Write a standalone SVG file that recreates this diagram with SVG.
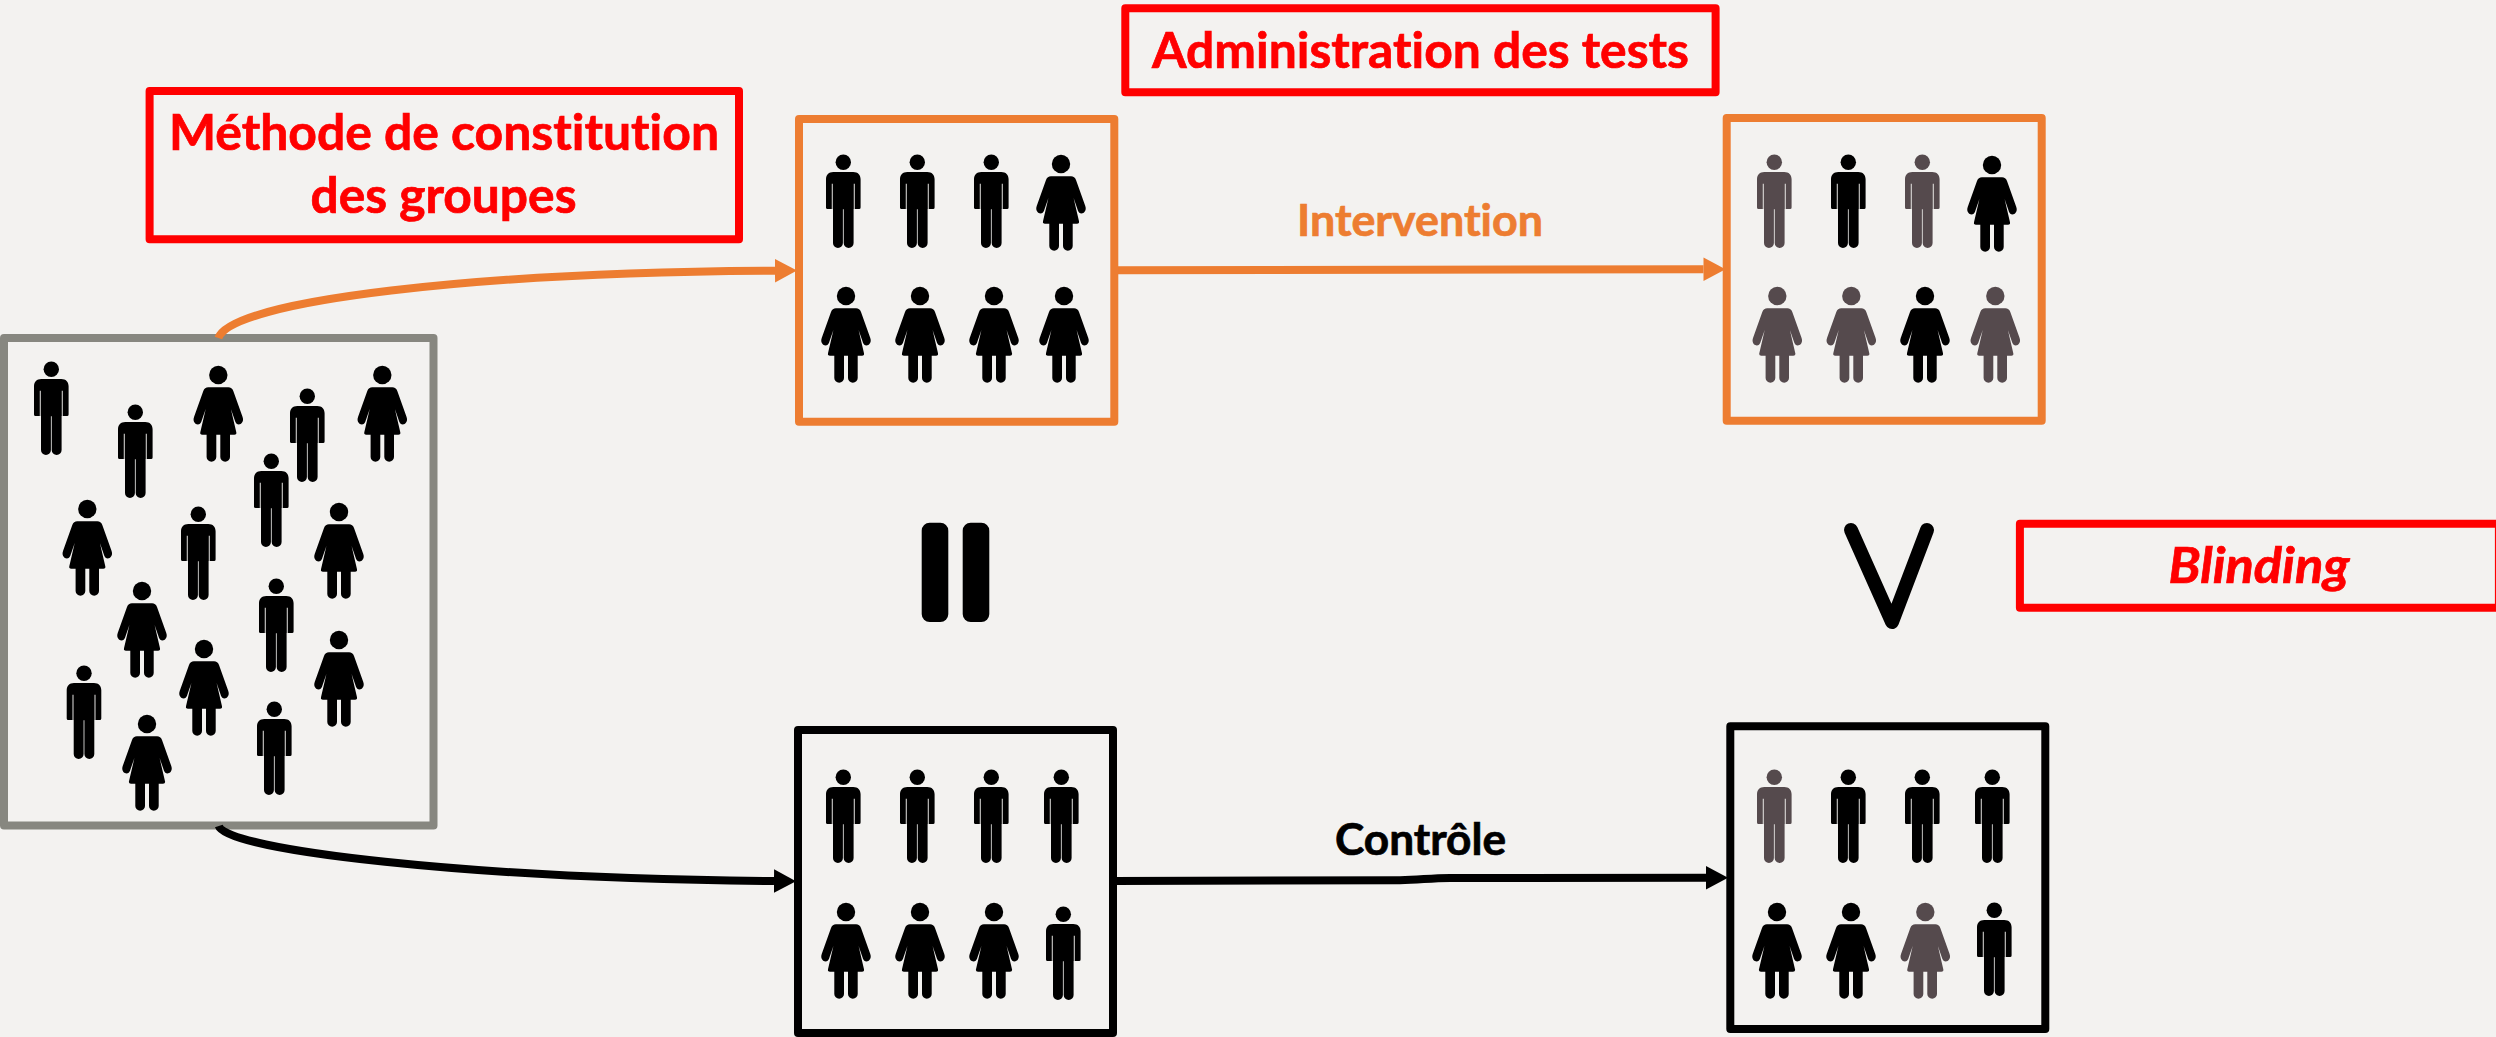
<svg xmlns="http://www.w3.org/2000/svg" width="2496" height="1037" viewBox="0 0 2496 1037">
<style>
.box{fill:none;stroke-width:8;stroke-linejoin:round}
.or{stroke:#ed7d31}.bk{stroke:#000}.gr{stroke:#878780}.rd{stroke:#f00}
.conn{fill:none;stroke-width:8}
.t{font-family:Lato,"Open Sans",sans-serif;font-weight:700;font-variant-ligatures:none;font-feature-settings:"liga" 0,"clig" 0;stroke-width:.7px}
.big{font-size:49px;fill:#f00;stroke:#f00}
.lab{font-size:43px}
.p{fill:#000}.q{fill:#554a4d}
.gap{fill:none;stroke:#f3f2f0;stroke-width:1.1;stroke-opacity:.85}
</style>
<defs>
<g id="man">
<circle cx="0" cy="0" r="7.7"/>
<path d="M-10,9.7H10C14.5,9.7 17.3,12.5 17.3,17V45.2Q17.3,46.7 15.8,46.7H10.3V80.8A4.95,4.95 0 0 1 .4,80.8V47H-.4V80.8A4.95,4.95 0 0 1 -10.3,80.8V46.7H-15.8Q-17.3,46.7 -17.3,45.2V17C-17.3,12.5 -14.5,9.7 -10,9.7Z"/>
<path class="gap" d="M-11,21.5V46.7M11,21.5V46.7"/>
</g>
<g id="woman">
<circle cx="0" cy="0" r="9.2"/>
<path d="M-10,12.3H10Q13.6,12.3 15,16L24.2,41.8C26,46.5 23,49.5 20.5,49.5C18.7,49.5 17.6,48.3 17,46.8L12.6,34L18,57.3Q18.6,59.7 16,59.7H11.7V81.9A4.85,4.85 0 0 1 2,81.9V59.7H-2V81.9A4.85,4.85 0 0 1 -11.7,81.9V59.7H-16Q-18.6,59.7 -18,57.3L-12.6,34L-17,46.8C-17.6,48.3 -18.7,49.5 -20.5,49.5C-23,49.5 -26,46.5 -24.2,41.8L-15,16Q-13.6,12.3 -10,12.3Z"/>
</g>
<marker id="ao" markerUnits="userSpaceOnUse" markerWidth="23" markerHeight="24" refX="0" refY="12" orient="auto"><path d="M0,.3L22,12L0,23.7Z" fill="#ed7d31"/></marker>
<marker id="ab" markerUnits="userSpaceOnUse" markerWidth="23" markerHeight="24" refX="0" refY="12" orient="auto"><path d="M0,.3L22,12L0,23.7Z" fill="#000"/></marker>
</defs>
<rect width="2496" height="1037" fill="#f3f2f0"/>

<g id="population">
<rect class="box gr" x="4" y="338" width="429.5" height="487.5"/>
<g class="p">
<use href="#man" x="51.3" y="369.3"/>
<use href="#man" x="135.3" y="412.3"/>
<use href="#woman" x="218.3" y="375"/>
<use href="#man" x="307.3" y="396.3"/>
<use href="#woman" x="382.3" y="375"/>
<use href="#man" x="271.3" y="461.3"/>
<use href="#woman" x="87.3" y="509"/>
<use href="#man" x="198.3" y="514.3"/>
<use href="#woman" x="339" y="512"/>
<use href="#woman" x="142" y="591"/>
<use href="#man" x="276.3" y="586.3"/>
<use href="#woman" x="339" y="640"/>
<use href="#woman" x="204" y="649"/>
<use href="#man" x="84" y="673.3"/>
<use href="#man" x="274.3" y="709.3"/>
<use href="#woman" x="147" y="724"/>
</g>
</g>

<g id="connectors">
<path class="conn" stroke="#ed7d31" marker-end="url(#ao)" d="M218.4,338C232,300 480,272 775,270.7"/>
<path class="conn" stroke="#000" marker-end="url(#ab)" d="M218.8,826C226,850 470,879 774,881"/>
<path class="conn" stroke="#ed7d31" marker-end="url(#ao)" d="M1116,270.3C1300,270.2 1520,269.4 1703.5,269.3"/>
<path class="conn" stroke="#000" marker-end="url(#ab)" d="M1115,881L1400,880.2C1420,879.8 1430,878.2 1450,878L1706,877.7"/>
</g>

<g id="intervention-t0">
<rect class="box or" x="799" y="119" width="315.3" height="302.7"/>
<g class="p">
<use href="#man" x="843.3" y="162.3"/>
<use href="#man" x="917.3" y="162.3"/>
<use href="#man" x="991.3" y="162.3"/>
<use href="#woman" x="1061" y="164"/>
<use href="#woman" x="846" y="296"/>
<use href="#woman" x="920" y="296"/>
<use href="#woman" x="994" y="296"/>
<use href="#woman" x="1064" y="296"/>
</g>
</g>

<g id="intervention-t1">
<rect class="box or" x="1726.7" y="118" width="315" height="302.7"/>
<use class="q" href="#man" x="1774.3" y="162.3"/>
<use class="p" href="#man" x="1848.3" y="162.3"/>
<use class="q" href="#man" x="1922.3" y="162.3"/>
<use class="p" href="#woman" x="1992" y="165"/>
<use class="q" href="#woman" x="1777.3" y="296"/>
<use class="q" href="#woman" x="1851.3" y="296"/>
<use class="p" href="#woman" x="1925" y="296"/>
<use class="q" href="#woman" x="1995.3" y="296"/>
</g>

<g id="control-t0">
<rect class="box bk" x="798" y="730" width="315" height="303"/>
<g class="p">
<use href="#man" x="843.3" y="777.3"/>
<use href="#man" x="917.3" y="777.3"/>
<use href="#man" x="991.3" y="777.3"/>
<use href="#man" x="1061.3" y="777.3"/>
<use href="#woman" x="846" y="912"/>
<use href="#woman" x="920" y="912"/>
<use href="#woman" x="994" y="912"/>
<use href="#man" x="1063.3" y="914.3"/>
</g>
</g>

<g id="control-t1">
<rect class="box bk" x="1730.3" y="726.3" width="315" height="302.7"/>
<use class="q" href="#man" x="1774.3" y="777.3"/>
<use class="p" href="#man" x="1848.3" y="777.3"/>
<use class="p" href="#man" x="1922.3" y="777.3"/>
<use class="p" href="#man" x="1992.3" y="777.3"/>
<use class="p" href="#woman" x="1777" y="912"/>
<use class="p" href="#woman" x="1851" y="912"/>
<use class="q" href="#woman" x="1925.3" y="912"/>
<use class="p" href="#man" x="1994.3" y="910.3"/>
</g>

<g id="label-methode">
<rect class="box rd" x="149.6" y="91" width="589.4" height="148.3"/>
<text class="t big" x="169" y="150" textLength="550" lengthAdjust="spacingAndGlyphs">Méthode de constitution</text>
<text class="t big" x="310.5" y="213.3" textLength="266" lengthAdjust="spacingAndGlyphs">des groupes</text>
</g>

<g id="label-administration">
<rect class="box rd" x="1125.3" y="8.3" width="590.3" height="84"/>
<text class="t big" x="1152" y="67.7" textLength="537" lengthAdjust="spacingAndGlyphs">Administration des tests</text>
</g>

<g id="label-blinding">
<rect class="box rd" x="2019.9" y="523.7" width="479" height="84"/>
<text class="t big" font-style="italic" x="2168.5" y="582.7" textLength="181" lengthAdjust="spacingAndGlyphs">Blinding</text>
</g>

<text id="label-intervention" class="t lab" fill="#ed7d31" stroke="#ed7d31" x="1297" y="235.7" textLength="246" lengthAdjust="spacingAndGlyphs">Intervention</text>
<text id="label-controle" class="t lab" fill="#000" stroke="#000" x="1335" y="855" textLength="171" lengthAdjust="spacingAndGlyphs">Contrôle</text>

<g id="equal-sign" fill="#000">
<rect x="921.7" y="522.7" width="26.6" height="99.3" rx="8"/>
<rect x="962.7" y="522.7" width="26.6" height="99.3" rx="8"/>
</g>
<path id="greater-sign" d="M1851,530L1892,622L1927,530" fill="none" stroke="#000" stroke-width="14" stroke-linecap="round" stroke-linejoin="round"/>
</svg>
